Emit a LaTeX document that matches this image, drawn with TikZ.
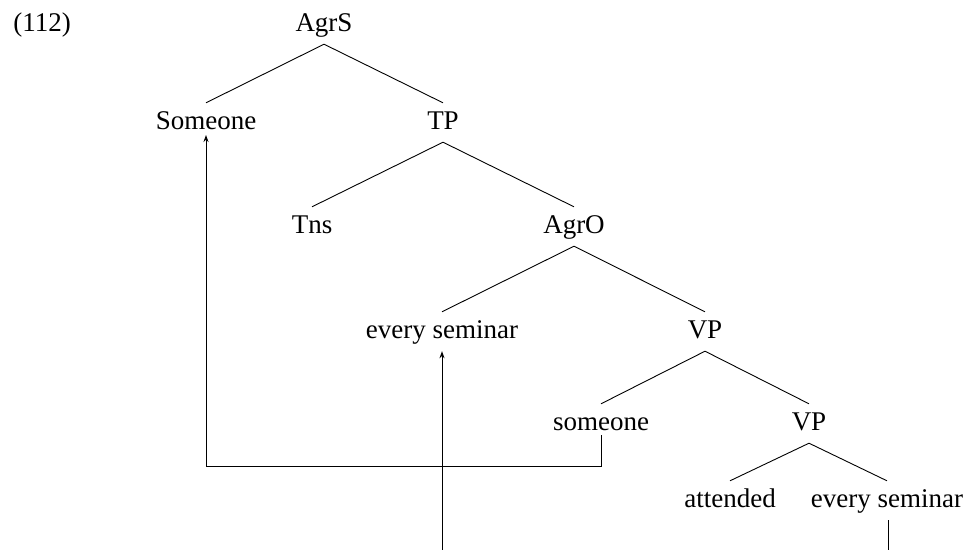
\documentclass[tikz,border=0pt]{standalone}
\usepackage{fontspec}
\setmainfont{Liberation Serif}
\usetikzlibrary{arrows.meta}
\begin{document}
\begin{tikzpicture}[x=1pt,y=-1pt,
  lab/.style={anchor=base,inner xsep=0pt,inner ysep=7pt,text height=19pt,text depth=6pt,
    font=\fontsize{27}{32}\selectfont},
  edge/.style={line width=0.9pt},
  mv/.style={line width=0.9pt,-{Stealth[length=7pt,width=5pt]}}]
\useasboundingbox (0,0) rectangle (968,549);
\clip (0,0) rectangle (968,549);
\node[lab] (num) at (42,31) {(112)};
\node[lab] (agrs) at (324,31) {AgrS};
\node[lab] (Someone) at (206,129) {Someone};
\node[lab] (tp) at (443,129) {TP};
\node[lab] (tns) at (312,233) {Tns};
\node[lab] (agro) at (574,233) {AgrO};
\node[lab] (es1) at (442,338) {every seminar};
\node[lab] (vp1) at (705,338) {VP};
\node[lab] (someone) at (601,430) {someone};
\node[lab] (vp2) at (809,430) {VP};
\node[lab] (att) at (730,507) {attended};
\node[lab] (es2) at (887,507) {every seminar};
\draw[edge] (agrs.south) -- (Someone.north);
\draw[edge] (agrs.south) -- (tp.north);
\draw[edge] (tp.south) -- (tns.north);
\draw[edge] (tp.south) -- (agro.north);
\draw[edge] (agro.south) -- (es1.north);
\draw[edge] (agro.south) -- (vp1.north);
\draw[edge] (vp1.south) -- (someone.north);
\draw[edge] (vp1.south) -- (vp2.north);
\draw[edge] (vp2.south) -- (att.north);
\draw[edge] (vp2.south) -- (es2.north);
\coordinate (low1) at (0,466);
\coordinate (low2) at (0,570);
\draw[mv] ([yshift=-5pt]someone.base) -- (someone.base |- low1) -| ([yshift=-6pt]Someone.base);
\draw[mv] ([xshift=1pt]es2.south) -- ([xshift=1pt]es2.south |- low2) -| (es1.south);
\end{tikzpicture}
\end{document}
